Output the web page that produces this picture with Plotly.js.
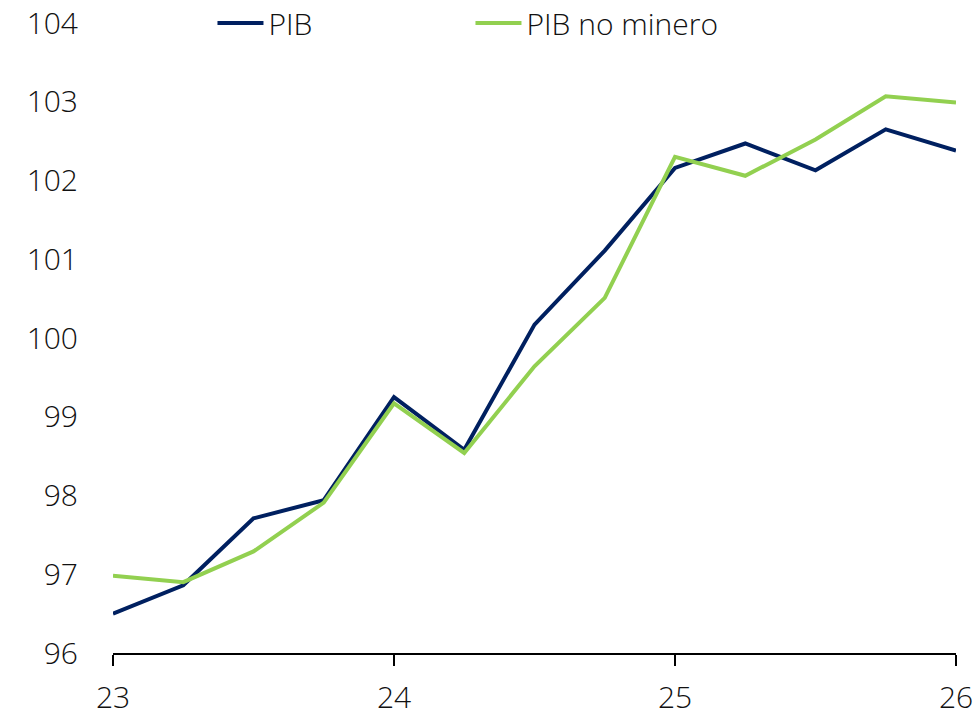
<!DOCTYPE html>
<html>
<head>
<meta charset="utf-8">
<script src="https://cdn.plot.ly/plotly-3.0.1.min.js"></script>
<style>html,body{margin:0;padding:0;background:#fff;}#chart{width:979px;height:717px;}</style>
</head>
<body>
<div id="chart"></div>
<script>
const xQuarters = [23, 23.25, 23.5, 23.75, 24, 24.25, 24.5, 24.75, 25, 25.25, 25.5, 25.75, 26];
const pib = [96.50, 96.86, 97.71, 97.94, 99.25, 98.58, 100.17, 101.11, 102.16, 102.47, 102.13, 102.65, 102.38];
const pibNoMinero = [96.98, 96.90, 97.29, 97.91, 99.17, 98.54, 99.64, 100.51, 102.30, 102.06, 102.52, 103.07, 102.99];
const xTickVals = [23, 24, 25, 26];
const xTickText = ["23", "24", "25", "26"];
const yTickVals = [96, 97, 98, 99, 100, 101, 102, 103, 104];

const fontFam = '"Open Sans", "Noto Sans", sans-serif';
const traces = [
  {x: xQuarters, y: pib, name: 'PIB', type: 'scatter', mode: 'lines',
   line: {color: '#002060', width: 4}},
  {x: xQuarters, y: pibNoMinero, name: 'PIB no minero', type: 'scatter', mode: 'lines',
   line: {color: '#92D050', width: 4}}
];
const layout = {
  width: 979, height: 717,
  margin: {l: 113, r: 23, t: 22.5, b: 64, pad: 0, autoexpand: false},
  paper_bgcolor: '#fff', plot_bgcolor: '#fff',
  font: {family: fontFam, size: 30, color: '#111', weight: 300},
  showlegend: true,
  legend: {orientation: 'h', x: 0.118, xanchor: 'left', y: 1.0, yanchor: 'middle',
           itemwidth: 46, entrywidth: 197, entrywidthmode: 'pixels', bgcolor: 'rgba(0,0,0,0)',
           font: {family: fontFam, size: 30, color: '#111', weight: 300}},
  xaxis: {range: [23, 26], tickvals: xTickVals, ticktext: xTickText,
          showgrid: false, zeroline: false, showline: true, linecolor: '#000', linewidth: 2,
          ticks: 'outside', ticklen: 11, tickwidth: 2, tickcolor: '#000',
          ticklabelstandoff: 6, fixedrange: true},
  yaxis: {range: [96, 104], tickvals: yTickVals, showgrid: false, zeroline: false,
          showline: false, ticks: '', ticklabelstandoff: 34, fixedrange: true}
};
Plotly.newPlot('chart', traces, layout, {displayModeBar: false, staticPlot: true});
</script>
</body>
</html>
